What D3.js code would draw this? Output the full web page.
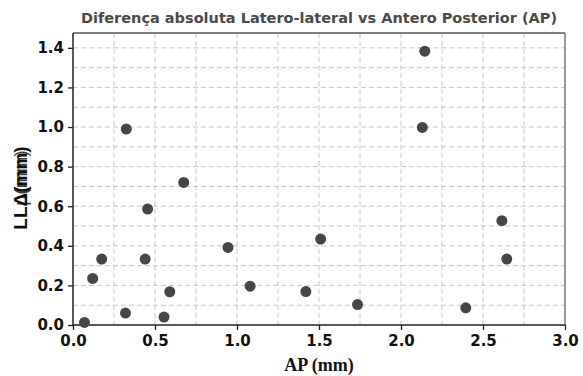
<!DOCTYPE html>
<html>
<head>
<meta charset="utf-8">
<script src="https://cdn.jsdelivr.net/npm/d3@7"></script>
<style>
  body { margin: 0; background: #fff; }
  .tick text { font-family: "DejaVu Sans", Verdana, sans-serif; font-weight: bold; font-size: 15px; fill: #111; }
  .grid line { stroke: #c8c8c8; stroke-dasharray: 5,3; }
  .grid .domain { display: none; }
</style>
</head>
<body>
<svg width="583" height="376"></svg>
<script>
// AP (mm) vs absolute latero-lateral difference (mm)
const apValues = [0.07, 0.12, 0.175, 0.325, 0.32, 0.44, 0.455, 0.555, 0.59, 0.675,
                  0.945, 1.08, 1.42, 1.51, 1.735, 2.13, 2.145, 2.395, 2.615, 2.645];
const llValues = [0.013, 0.235, 0.333, 0.99, 0.06, 0.333, 0.586, 0.04, 0.168, 0.72,
                  0.392, 0.196, 0.169, 0.434, 0.103, 0.998, 1.383, 0.087, 0.527, 0.333];
const xTicks = [0, 0.5, 1.0, 1.5, 2.0, 2.5, 3.0];
const yTicks = [0, 0.2, 0.4, 0.6, 0.8, 1.0, 1.2, 1.4];
const xGrid = d3.range(0, 3.01, 0.25);
const yGrid = d3.range(0.1, 1.45, 0.1);

let svg = d3.select("svg");
let margin = { top: 33, right: 18, bottom: 51, left: 73 };
let width = +svg.attr("width") - margin.left - margin.right;
let height = +svg.attr("height") - margin.top - margin.bottom;

let x = d3.scaleLinear().domain([0, 3]).range([0, width]);
let y = d3.scaleLinear().domain([0, 1.475]).range([height, 0]);

let chart = svg.append("g").attr("transform", "translate(" + margin.left + "," + margin.top + ")");

// dashed grid
chart.append("g").attr("class", "grid")
  .selectAll("line").data(xGrid.filter(d => d > 0 && d < 3)).enter().append("line")
  .attr("x1", d => x(d)).attr("x2", d => x(d))
  .attr("y1", 0).attr("y2", height);
chart.append("g").attr("class", "grid")
  .selectAll("line").data(yGrid).enter().append("line")
  .attr("x1", 0).attr("x2", width)
  .attr("y1", d => y(d)).attr("y2", d => y(d));

// frame top / right
chart.append("line").attr("x1", 0).attr("x2", width).attr("y1", 0).attr("y2", 0)
  .attr("stroke", "#555").attr("stroke-width", 1.5);
chart.append("line").attr("x1", width).attr("x2", width).attr("y1", 0).attr("y2", height)
  .attr("stroke", "#777").attr("stroke-width", 1.5);

// axes
let xAxis = chart.append("g")
  .attr("transform", "translate(0," + height + ")")
  .call(d3.axisBottom(x).tickValues(xTicks).tickFormat(d3.format(".1f")).tickSize(5).tickPadding(5));
let yAxis = chart.append("g")
  .call(d3.axisLeft(y).tickValues(yTicks).tickFormat(d3.format(".1f")).tickSize(5).tickPadding(4));
[xAxis, yAxis].forEach(a => {
  a.select(".domain").attr("stroke", "#222").attr("stroke-width", 1.5);
  a.selectAll(".tick line").attr("stroke", "#222").attr("stroke-width", 1.3);
});
yAxis.select(".domain").attr("d", "M0," + height + "V0");
xAxis.select(".domain").attr("d", "M0,0H" + width);

// points
let pts = apValues.map((v, i) => ({ ap: v, ll: llValues[i] }));
chart.append("g").selectAll("circle").data(pts).enter().append("circle")
  .attr("cx", d => x(d.ap))
  .attr("cy", d => y(d.ll))
  .attr("r", 5.5)
  .attr("fill", "#464646");

// title
svg.append("text")
  .attr("x", margin.left + width / 2).attr("y", 23)
  .attr("text-anchor", "middle")
  .attr("font-family", "DejaVu Sans, Verdana, sans-serif")
  .attr("font-weight", "bold").attr("font-size", 14.5)
  .attr("fill", "#4a4a4a")
  .text("Diferença absoluta Latero-lateral vs Antero Posterior (AP)");

// x title
svg.append("text")
  .attr("x", margin.left + width / 2).attr("y", 371)
  .attr("text-anchor", "middle")
  .attr("font-family", "Liberation Serif, Times New Roman, serif")
  .attr("font-weight", "bold").attr("font-size", 18)
  .attr("fill", "#111")
  .text("AP (mm)");

// y title (overlapping glyphs as in the source)
let yt = svg.append("g").attr("transform", "translate(27,188) rotate(-90)")
  .attr("font-family", "Liberation Sans Narrow, Liberation Sans, Arial, sans-serif")
  .attr("font-size", 19).attr("fill", "#111").attr("text-anchor", "middle");
yt.append("text").attr("font-weight", "bold").text("LLΔ(mm)");
yt.append("text").attr("x", 10).text("μ(mm)").attr("opacity", 0.8);
</script>
</body>
</html>
